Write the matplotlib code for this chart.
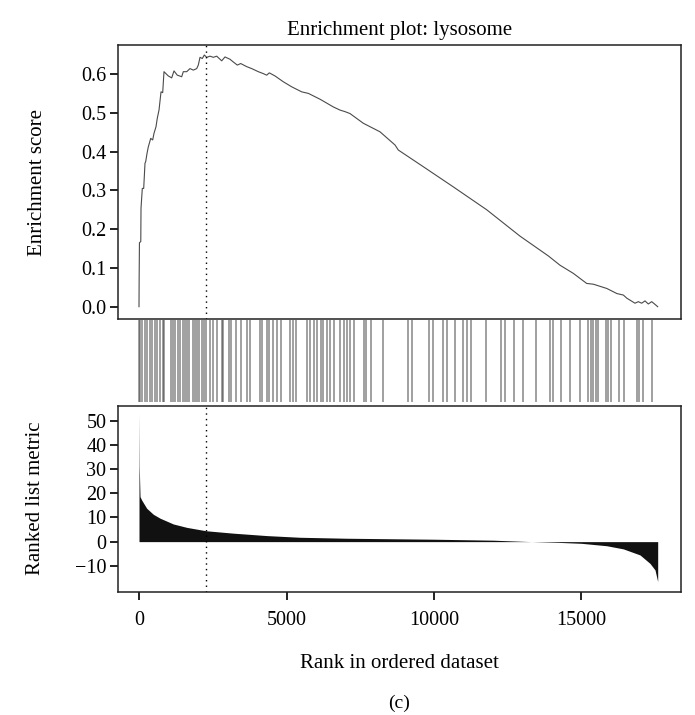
import numpy as np
import matplotlib.pyplot as plt
from matplotlib import rc
rc('font', family=['Liberation Serif', 'DejaVu Serif'])

# running enrichment score (rank, score)
es_rank = [0, 5, 15, 60, 68, 112, 159, 203, 227, 271, 315, 397, 464, 508, 576, 620,
           678, 746, 803, 847, 993, 1108, 1186, 1298, 1447, 1502, 1617, 1729, 1841,
           1956, 2010, 2068, 2146, 2214, 2295, 2407, 2519, 2634, 2803, 2915, 3085,
           3197, 3332, 3447, 3651, 3820, 4044, 4214, 4329, 4417, 4610, 4892, 5176,
           5515, 5742, 6136, 6590, 6814, 6983, 7153, 7604, 8169, 8678, 8790, 9637,
           10654, 11786, 12915, 13875, 14271, 14722, 15176, 15403, 15858, 16197,
           16420, 16536, 16814, 16925, 17041, 17153, 17264, 17380, 17492, 17583]
es_score = [0.0, 0.076, 0.165, 0.168, 0.254, 0.305, 0.305, 0.370, 0.374, 0.395, 0.412,
            0.434, 0.430, 0.447, 0.464, 0.486, 0.507, 0.554, 0.552, 0.606, 0.595,
            0.590, 0.608, 0.597, 0.593, 0.606, 0.606, 0.614, 0.610, 0.614, 0.623,
            0.643, 0.640, 0.649, 0.643, 0.646, 0.643, 0.646, 0.634, 0.644, 0.638,
            0.631, 0.623, 0.627, 0.619, 0.614, 0.606, 0.601, 0.597, 0.603, 0.595,
            0.580, 0.567, 0.554, 0.550, 0.535, 0.515, 0.507, 0.503, 0.498, 0.473,
            0.451, 0.417, 0.404, 0.361, 0.309, 0.250, 0.182, 0.131, 0.107, 0.086,
            0.060, 0.058, 0.047, 0.034, 0.030, 0.022, 0.009, 0.013, 0.009, 0.015,
            0.007, 0.013, 0.006, 0.0]

# positions of gene-set members in the ranked list
hits = [5, 34, 112, 203, 281, 373, 441, 542, 620, 712, 797, 858, 1085, 1153, 1220,
        1332, 1390, 1502, 1559, 1637, 1695, 1820, 1898, 1956, 2044, 2119, 2203, 2271,
        2407, 2498, 2634, 2803, 2864, 3061, 3129, 3288, 3458, 3671, 3763, 4102, 4159,
        4329, 4417, 4553, 4668, 4797, 5119, 5220, 5322, 5685, 5797, 5932, 6024, 6159,
        6247, 6373, 6475, 6610, 6814, 6949, 7061, 7153, 7288, 7627, 7695, 7854, 8281,
        9129, 9244, 9841, 9956, 10295, 10431, 10712, 10973, 11108, 11244, 11763,
        12261, 12407, 12712, 13027, 13458, 13932, 14024, 14295, 14610, 14949, 15231,
        15312, 15380, 15492, 15569, 15831, 15908, 15990, 16281, 16441, 16871, 16959,
        17075, 17380]

# ranked list metric (rank, value)
m_rank = [0, 10, 20, 35, 90, 260, 485, 712, 1163, 1617, 2271, 3197, 4329, 5458, 7040,
          8500, 10000, 12000, 13300, 14200, 15000, 15854, 16417, 16983, 17322, 17492, 17583]
m_val = [53.5, 31.0, 25.5, 18.6, 17.2, 13.8, 11.3, 9.7, 7.3, 5.9, 4.5, 3.5, 2.5, 1.8, 1.4,
         1.2, 1.0, 0.6, 0.0, -0.3, -0.7, -1.7, -3.0, -5.5, -9.0, -11.7, -16.5]

max_rank = 2271
xlim = [-729, 18363]

fig = plt.figure(figsize=(6.95, 7.15), dpi=100)
W, H = 695., 715.

def box(l, t, r, b):
    return [l/W, 1-b/H, (r-l)/W, (b-t)/H]

ax0 = fig.add_axes(box(117.5, 45, 680.7, 319))
ax1 = fig.add_axes(box(117.5, 319, 680.7, 405.7))
ax2 = fig.add_axes(box(117.5, 405.7, 680.7, 591.7))

for ax in (ax0, ax2):
    for s in ax.spines.values():
        s.set_linewidth(1.1)
        s.set_color('#222222')
    ax.tick_params(direction='out', length=6, width=1.3, labelsize=14.5, pad=2, color='#111111')

# top: running ES
ax0.plot(es_rank, es_score, color='#4a4a4a', lw=0.8)
ax0.axvline(max_rank, color='black', ls=(0, (1, 3)), lw=1.0)
ax0.set_xlim(xlim)
ax0.set_ylim(-0.0317, 0.6748)
ax0.set_yticks([0.0, 0.1, 0.2, 0.3, 0.4, 0.5, 0.6])
ax0.set_yticklabels(['0.0', '0.1', '0.2', '0.3', '0.4', '0.5', '0.6'])
ax0.set_xticks([])
ax0.set_ylabel('Enrichment score', fontsize=15)
ax0.yaxis.set_label_coords(-0.125, 0.5)
ax0.set_title('Enrichment plot: lysosome', fontsize=15, pad=7)

# middle: hit bars
ax1.vlines(hits, 0.043, 0.988, color='#333333', alpha=0.5, lw=1.3)
ax1.set_xlim(xlim)
ax1.set_ylim(0, 1)
ax1.axis('off')

# bottom: ranked list metric
ax2.fill_between(m_rank, 0, m_val, color='#111111', lw=0)
ax2.axvline(max_rank, color='black', ls=(0, (1, 3)), lw=1.0)
ax2.set_xlim(xlim)
ax2.set_ylim(-20.7, 56.2)
ax2.set_yticks([-10, 0, 10, 20, 30, 40, 50])
ax2.set_yticklabels(['\u221210', '0', '10', '20', '30', '40', '50'])
ax2.set_xticks([0, 5000, 10000, 15000])
ax2.tick_params(axis='x', pad=8)
ax2.set_ylabel('Ranked list metric', fontsize=15)
ax2.yaxis.set_label_coords(-0.129, 0.5)

fig.text(399/W, 1-663/H, 'Rank in ordered dataset', ha='center', va='center', fontsize=15)
fig.text(399/W, 1-703/H, '(c)', ha='center', va='center', fontsize=14)

plt.savefig('out.png', dpi=100)
